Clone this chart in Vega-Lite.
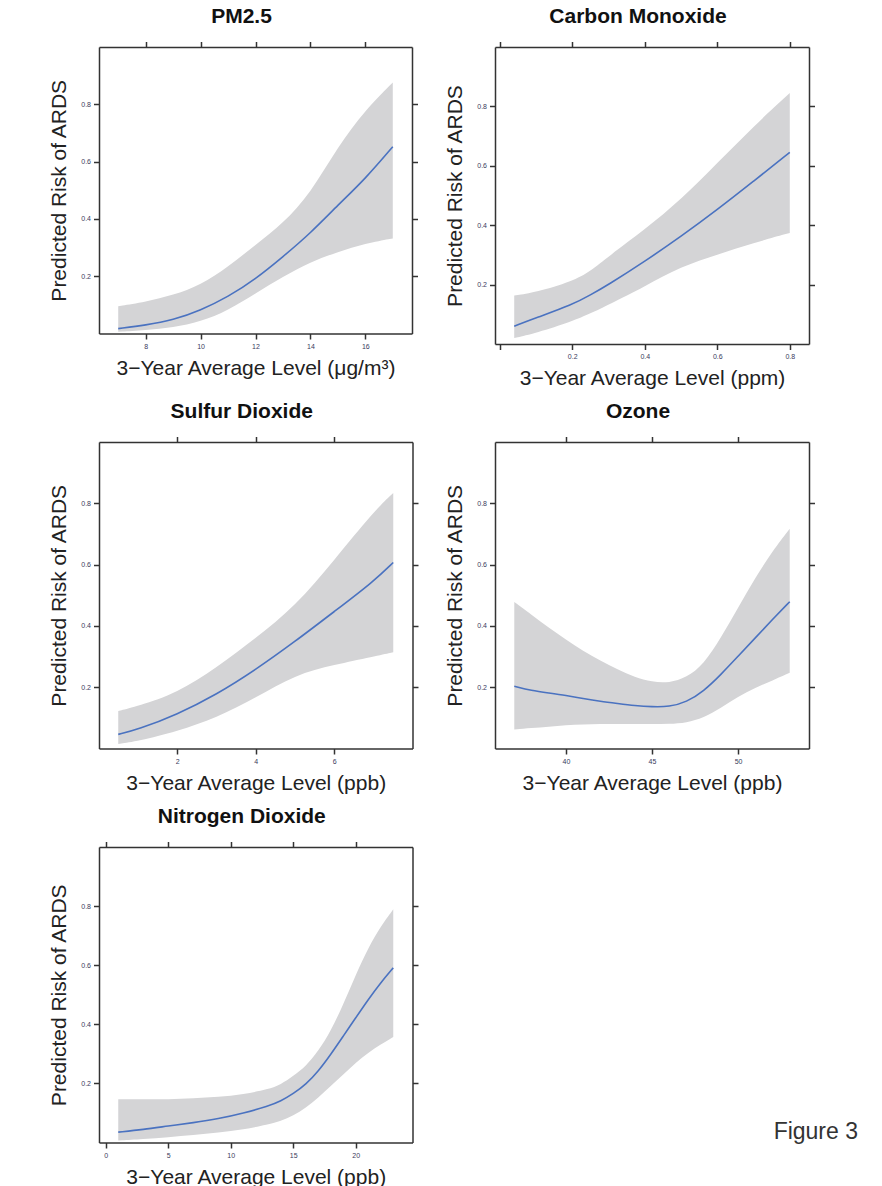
{
"$schema": "https://vega.github.io/schema/vega-lite/v6.json",
"autosize": {"type": "none"},
"padding": {"left": 99, "top": 47, "right": 783, "bottom": 1139},
"background": "#ffffff",
"columns": 2,
"bounds": "flush",
"align": "each",
"spacing": {"row": 98, "column": 82},
"datasets": {
"pm25": [
{"x":7,"fit":0.017,"lo":0.006,"hi":0.095},{"x":8,"fit":0.029,"lo":0.012,"hi":0.11},{"x":9,"fit":0.047,"lo":0.021,"hi":0.134},{"x":10,"fit":0.081,"lo":0.041,"hi":0.169},{"x":11,"fit":0.128,"lo":0.081,"hi":0.233},{"x":12,"fit":0.19,"lo":0.14,"hi":0.309},{"x":13,"fit":0.268,"lo":0.198,"hi":0.384},{"x":14,"fit":0.35,"lo":0.25,"hi":0.489},{"x":15,"fit":0.448,"lo":0.285,"hi":0.652},{"x":16,"fit":0.54,"lo":0.314,"hi":0.78},{"x":17,"fit":0.652,"lo":0.332,"hi":0.876}],
"co": [
{"x":0.04,"fit":0.06,"lo":0.02,"hi":0.163},{"x":0.1,"fit":0.088,"lo":0.037,"hi":0.174},{"x":0.2,"fit":0.132,"lo":0.076,"hi":0.211},{"x":0.25,"fit":0.165,"lo":0.103,"hi":0.245},{"x":0.3,"fit":0.2,"lo":0.132,"hi":0.295},{"x":0.4,"fit":0.278,"lo":0.194,"hi":0.385},{"x":0.5,"fit":0.362,"lo":0.261,"hi":0.486},{"x":0.6,"fit":0.452,"lo":0.301,"hi":0.609},{"x":0.7,"fit":0.548,"lo":0.34,"hi":0.733},{"x":0.8,"fit":0.645,"lo":0.374,"hi":0.845}],
"so2": [
{"x":0.5,"fit":0.046,"lo":0.015,"hi":0.122},{"x":1,"fit":0.062,"lo":0.024,"hi":0.138},{"x":2,"fit":0.111,"lo":0.056,"hi":0.181},{"x":3,"fit":0.176,"lo":0.1,"hi":0.263},{"x":4,"fit":0.257,"lo":0.165,"hi":0.36},{"x":5,"fit":0.349,"lo":0.241,"hi":0.463},{"x":6,"fit":0.447,"lo":0.273,"hi":0.615},{"x":7,"fit":0.545,"lo":0.3,"hi":0.773},{"x":7.5,"fit":0.607,"lo":0.314,"hi":0.834}],
"o3": [
{"x":37,"fit":0.203,"lo":0.062,"hi":0.478},{"x":38,"fit":0.189,"lo":0.067,"hi":0.437},{"x":39,"fit":0.181,"lo":0.071,"hi":0.394},{"x":40,"fit":0.173,"lo":0.076,"hi":0.356},{"x":41,"fit":0.163,"lo":0.078,"hi":0.318},{"x":42,"fit":0.154,"lo":0.08,"hi":0.287},{"x":43,"fit":0.147,"lo":0.08,"hi":0.258},{"x":44,"fit":0.14,"lo":0.08,"hi":0.233},{"x":45,"fit":0.136,"lo":0.08,"hi":0.217},{"x":46,"fit":0.136,"lo":0.08,"hi":0.214},{"x":47,"fit":0.151,"lo":0.084,"hi":0.231},{"x":48,"fit":0.187,"lo":0.1,"hi":0.274},{"x":49,"fit":0.241,"lo":0.132,"hi":0.361},{"x":50,"fit":0.301,"lo":0.17,"hi":0.459},{"x":51,"fit":0.361,"lo":0.198,"hi":0.557},{"x":52,"fit":0.421,"lo":0.222,"hi":0.644},{"x":53,"fit":0.479,"lo":0.247,"hi":0.717}],
"no2": [
{"x":1,"fit":0.035,"lo":0.007,"hi":0.146},{"x":3,"fit":0.044,"lo":0.012,"hi":0.146},{"x":5,"fit":0.056,"lo":0.018,"hi":0.146},{"x":7,"fit":0.067,"lo":0.025,"hi":0.15},{"x":9,"fit":0.08,"lo":0.033,"hi":0.154},{"x":11,"fit":0.099,"lo":0.044,"hi":0.163},{"x":13,"fit":0.123,"lo":0.061,"hi":0.18},{"x":14,"fit":0.14,"lo":0.073,"hi":0.196},{"x":15,"fit":0.165,"lo":0.09,"hi":0.225},{"x":16,"fit":0.196,"lo":0.118,"hi":0.258},{"x":17,"fit":0.241,"lo":0.151,"hi":0.309},{"x":18,"fit":0.298,"lo":0.191,"hi":0.377},{"x":19,"fit":0.36,"lo":0.23,"hi":0.467},{"x":20,"fit":0.422,"lo":0.27,"hi":0.568},{"x":21,"fit":0.484,"lo":0.304,"hi":0.659},{"x":22,"fit":0.541,"lo":0.332,"hi":0.732},{"x":23,"fit":0.591,"lo":0.357,"hi":0.789}]
},
"concat": [
{
"title": {"text": "PM2.5", "dx": -14},
"width": 313, "height": 286.5,
"data": {"name": "pm25"},
"layer": [
{"mark": {"type": "area", "color": "#d4d4d6", "interpolate": "basis"},
"encoding": {
"x": {"field": "x", "type": "quantitative", "scale": {"domain": [6.3, 17.7], "nice": false, "zero": false}, "axis": {"orient": "bottom", "values": [8, 10, 12, 14, 16], "format": "d", "title": "3−Year Average Level (μg/m³)"}},
"y": {"field": "lo", "type": "quantitative", "scale": {"domain": [0, 1], "nice": false}, "axis": {"orient": "left", "values": [0.2, 0.4, 0.6, 0.8], "format": ".1f", "title": "Predicted Risk of ARDS"}},
"y2": {"field": "hi"}}},
{"mark": {"type": "line", "color": "#4a72c0", "strokeWidth": 1.6, "interpolate": "basis"},
"encoding": {
"x": {"field": "x", "type": "quantitative", "axis": {"orient": "top", "values": [8, 10, 12, 14, 16], "labels": false, "title": null}},
"y": {"field": "fit", "type": "quantitative", "axis": {"orient": "right", "values": [0.2, 0.4, 0.6, 0.8], "labels": false, "title": null}}}}
],
"resolve": {"axis": {"x": "independent", "y": "independent"}}
},
{
"title": {"text": "Carbon Monoxide", "dx": -14},
"width": 314, "height": 297,
"data": {"name": "co"},
"layer": [
{"mark": {"type": "area", "color": "#d4d4d6", "interpolate": "basis"},
"encoding": {
"x": {"field": "x", "type": "quantitative", "scale": {"domain": [-0.013, 0.853], "nice": false, "zero": false}, "axis": {"orient": "bottom", "values": [0, 0.2, 0.4, 0.6, 0.8], "labelExpr": "datum.value == 0 ? '' : format(datum.value, '.1f')", "title": "3−Year Average Level (ppm)"}},
"y": {"field": "lo", "type": "quantitative", "scale": {"domain": [0, 1], "nice": false}, "axis": {"orient": "left", "values": [0.2, 0.4, 0.6, 0.8], "format": ".1f", "title": "Predicted Risk of ARDS"}},
"y2": {"field": "hi"}}},
{"mark": {"type": "line", "color": "#4a72c0", "strokeWidth": 1.6, "interpolate": "basis"},
"encoding": {
"x": {"field": "x", "type": "quantitative", "axis": {"orient": "top", "values": [0, 0.2, 0.4, 0.6, 0.8], "labels": false, "title": null}},
"y": {"field": "fit", "type": "quantitative", "axis": {"orient": "right", "values": [0.2, 0.4, 0.6, 0.8], "labels": false, "title": null}}}}
],
"resolve": {"axis": {"x": "independent", "y": "independent"}}
},
{
"title": {"text": "Sulfur Dioxide", "dx": -14},
"width": 313.5, "height": 306.5,
"data": {"name": "so2"},
"layer": [
{"mark": {"type": "area", "color": "#d4d4d6", "interpolate": "basis"},
"encoding": {
"x": {"field": "x", "type": "quantitative", "scale": {"domain": [0.01, 7.99], "nice": false, "zero": false}, "axis": {"orient": "bottom", "values": [2, 4, 6], "format": "d", "title": "3−Year Average Level (ppb)"}},
"y": {"field": "lo", "type": "quantitative", "scale": {"domain": [0, 1], "nice": false}, "axis": {"orient": "left", "values": [0.2, 0.4, 0.6, 0.8], "format": ".1f", "title": "Predicted Risk of ARDS"}},
"y2": {"field": "hi"}}},
{"mark": {"type": "line", "color": "#4a72c0", "strokeWidth": 1.6, "interpolate": "basis"},
"encoding": {
"x": {"field": "x", "type": "quantitative", "axis": {"orient": "top", "values": [2, 4, 6], "labels": false, "title": null}},
"y": {"field": "fit", "type": "quantitative", "axis": {"orient": "right", "values": [0.2, 0.4, 0.6, 0.8], "labels": false, "title": null}}}}
],
"resolve": {"axis": {"x": "independent", "y": "independent"}}
},
{
"title": {"text": "Ozone", "dx": -14},
"width": 314, "height": 306.5,
"data": {"name": "o3"},
"layer": [
{"mark": {"type": "area", "color": "#d4d4d6", "interpolate": "basis"},
"encoding": {
"x": {"field": "x", "type": "quantitative", "scale": {"domain": [35.88, 54.12], "nice": false, "zero": false}, "axis": {"orient": "bottom", "values": [40, 45, 50], "format": "d", "title": "3−Year Average Level (ppb)"}},
"y": {"field": "lo", "type": "quantitative", "scale": {"domain": [0, 1], "nice": false}, "axis": {"orient": "left", "values": [0.2, 0.4, 0.6, 0.8], "format": ".1f", "title": "Predicted Risk of ARDS"}},
"y2": {"field": "hi"}}},
{"mark": {"type": "line", "color": "#4a72c0", "strokeWidth": 1.6, "interpolate": "basis"},
"encoding": {
"x": {"field": "x", "type": "quantitative", "axis": {"orient": "top", "values": [40, 45, 50], "labels": false, "title": null}},
"y": {"field": "fit", "type": "quantitative", "axis": {"orient": "right", "values": [0.2, 0.4, 0.6, 0.8], "labels": false, "title": null}}}}
],
"resolve": {"axis": {"x": "independent", "y": "independent"}}
},
{
"title": {"text": "Nitrogen Dioxide", "dx": -14},
"width": 313.5, "height": 295.5,
"data": {"name": "no2"},
"layer": [
{"mark": {"type": "area", "color": "#d4d4d6", "interpolate": "basis"},
"encoding": {
"x": {"field": "x", "type": "quantitative", "scale": {"domain": [-0.54, 24.54], "nice": false, "zero": false}, "axis": {"orient": "bottom", "values": [0, 5, 10, 15, 20], "format": "d", "title": "3−Year Average Level (ppb)"}},
"y": {"field": "lo", "type": "quantitative", "scale": {"domain": [0, 1], "nice": false}, "axis": {"orient": "left", "values": [0.2, 0.4, 0.6, 0.8], "format": ".1f", "title": "Predicted Risk of ARDS"}},
"y2": {"field": "hi"}}},
{"mark": {"type": "line", "color": "#4a72c0", "strokeWidth": 1.6, "interpolate": "basis"},
"encoding": {
"x": {"field": "x", "type": "quantitative", "axis": {"orient": "top", "values": [0, 5, 10, 15, 20], "labels": false, "title": null}},
"y": {"field": "fit", "type": "quantitative", "axis": {"orient": "right", "values": [0.2, 0.4, 0.6, 0.8], "labels": false, "title": null}}}}
],
"resolve": {"axis": {"x": "independent", "y": "independent"}}
},
{
"title": {"text": "Figure 3", "orient": "bottom", "anchor": "end", "fontSize": 23, "fontWeight": "normal", "color": "#333333", "offset": -22, "dx": 49},
"width": 314, "height": 296,
"data": {"values": []},
"mark": {"type": "point", "opacity": 0},
"encoding": {},
"view": {"stroke": null}
}
],
"config": {
"view": {"stroke": null},
"font": "Liberation Sans",
"axis": {"grid": false, "domainColor": "#333333", "domainWidth": 1.5, "tickColor": "#333333", "tickWidth": 1.5, "tickSize": 5.5, "labelFont": "Liberation Sans", "labelFontSize": 7, "labelColor": "#3a3a5c", "labelPadding": 3, "titleFont": "Liberation Sans", "titleFontSize": 21, "titleFontWeight": "normal", "titleColor": "#222222"},
"axisLeft": {"titlePadding": 11},
"axisBottom": {"titlePadding": 8},
"title": {"font": "Liberation Sans", "fontSize": 21, "fontWeight": "bold", "color": "#111111", "offset": 14}
}
}
